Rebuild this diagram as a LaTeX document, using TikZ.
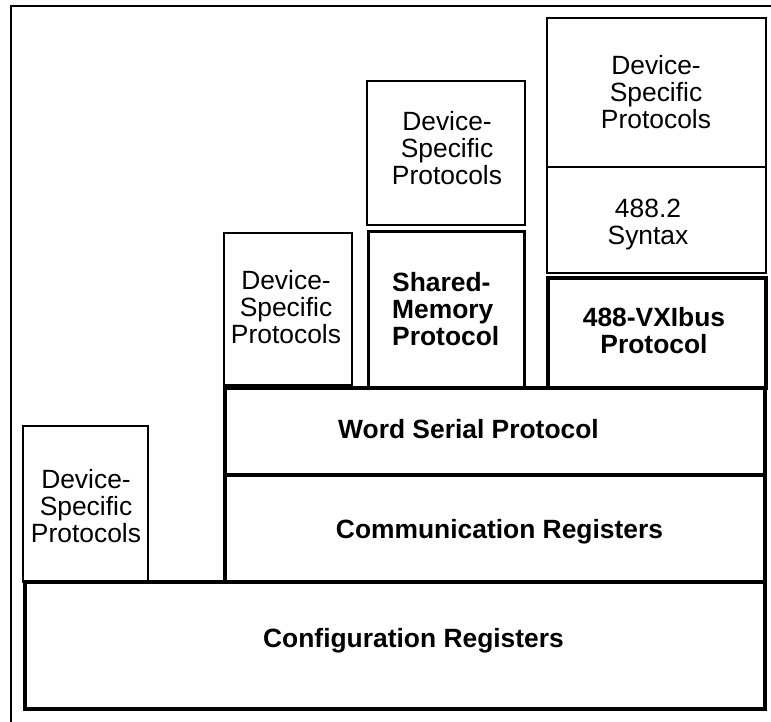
\documentclass[tikz,border=0pt]{standalone}
\usepackage{fontspec}
\setmainfont{Liberation Sans}
\begin{document}
\begin{tikzpicture}[x=1pt,y=-1pt,
  thinbox/.style={draw,line width=2pt},
  midbox/.style={draw,line width=3pt},
  thickbox/.style={draw,line width=4pt},
  lbl/.style={inner sep=0pt,font=\fontsize{26.4}{27}\selectfont},
  blbl/.style={lbl,font=\fontsize{26.4}{27}\selectfont\bfseries}]
\useasboundingbox (0,0) rectangle (771,721);
% outer frame (left and top sides visible)
\draw[line width=2pt] (11,740) -- (11,6) -- (790,6);
% boxes
\draw[thinbox] (23,426) rectangle (148,582);
\draw[thinbox] (224,233) rectangle (352,385);
\draw[thinbox] (367,81) rectangle (525,225);
\draw[line width=2.5pt] (547,18) rectangle (766,167);
\draw[line width=2.5pt] (547,167) rectangle (766,273);
\draw[midbox] (368,231) rectangle (524,388);
\draw[line width=3.5pt] (548,278) rectangle (766,388);
\draw[thickbox] (225,388) rectangle (765,475);
\draw[thickbox] (225,475) rectangle (765,582);
\draw[thickbox] (25,582) rectangle (765,709);
% labels (anchor base = baseline of last line)
\node[lbl,align=center,anchor=base] (dsA) at (86,542) {Device-\\Specific\\Protocols};
\node[lbl,align=center,anchor=base] (dsB) at (286,343) {Device-\\Specific\\Protocols};
\node[lbl,align=center,anchor=base] (dsC) at (447,184) {Device-\\Specific\\Protocols};
\node[lbl,align=center,anchor=base] (dsD) at (656,128) {Device-\\Specific\\Protocols};
\node[lbl,align=center,anchor=base] (syn) at (648,244) {488.2\\Syntax};
\node[blbl,align=left,anchor=base west] (sm) at (392,345) {Shared-\\Memory\\Protocol};
\node[blbl,align=center,anchor=base] (vxi) at (654,353) {488-VXIbus\\Protocol};
\node[blbl,anchor=base] (ws) at (468.5,438) {Word Serial Protocol};
\node[blbl,anchor=base] (comm) at (499.5,538) {Communication Registers};
\node[blbl,anchor=base] (cfg) at (413.5,647) {Configuration Registers};
\end{tikzpicture}
\end{document}
